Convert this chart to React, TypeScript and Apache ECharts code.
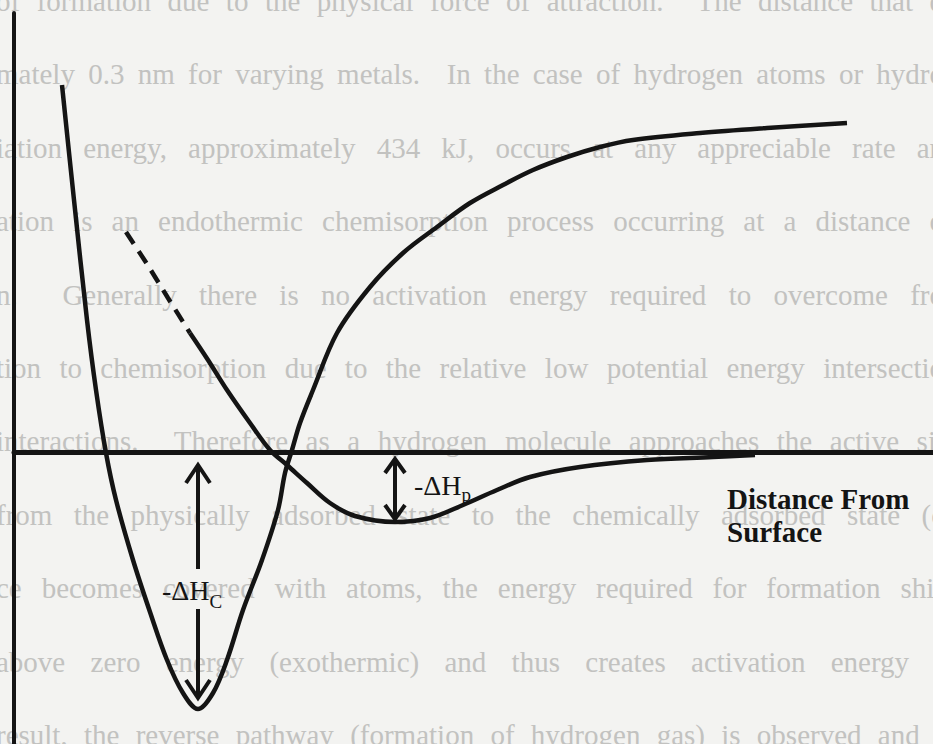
import React, { useEffect, useRef } from "react";
import * as echarts from "echarts";

// ---- Data (distance from surface vs potential energy, arbitrary units; energy 0 = free molecule) ----
const CHEM_DISTANCE = [48, 60, 73, 82, 92, 102, 119, 136, 153, 169, 184, 199, 213, 229, 248, 264, 271, 278, 286, 299, 323, 356, 389, 423, 456, 489, 519, 553, 586, 619, 686, 753, 833];
const CHEM_ENERGY = [367, 252, 132, 62, -1, -48, -108, -160, -208, -241, -257, -241, -208, -158, -108, -58, -21, 2, 29, 62, 119, 165, 199, 225, 249, 267, 282, 295, 305, 312, 319, 324, 329];

const PHYS_DASH_DISTANCE = [112, 133, 154, 176];
const PHYS_DASH_ENERGY = [220, 188, 154, 119];

const PHYS_DISTANCE = [176, 194, 213, 236, 256, 273, 293, 316, 341, 381, 416, 449, 483, 516, 566, 633, 699, 741];
const PHYS_ENERGY = [119, 92, 62, 29, 2, -13, -31, -51, -64, -70, -66, -53, -38, -25, -15, -8, -5, -3];

// [distance, energy start, energy end, head at start, head at end]
const ARROW_HC = [
  [184, -11, -119, 1, 0],
  [184, -155, -248, 0, 1],
];
const ARROW_HP = [[381, -5, -69, 1, 1]];

const LABEL_HC = ["-ΔH", "C"];
const LABEL_HP = ["-ΔH", "p"];
const AXIS_TITLE = ["Distance From", "Surface"];

const BG_LINES = [
  "of formation due to the physical force of attraction.  The distance that d",
  "mately 0.3 nm for varying metals.  In the case of hydrogen atoms or hydro",
  "iation energy, approximately 434 kJ, occurs at any appreciable rate an",
  "ation is an endothermic chemisorption process occurring at a distance o",
  "n.  Generally there is no activation energy required to overcome fro",
  "tion to chemisorption due to the relative low potential energy intersectio",
  "interactions.  Therefore as a hydrogen molecule approaches the active sit",
  "from the physically adsorbed state to the chemically adsorbed state (c",
  "ce becomes covered with atoms, the energy required for formation shif",
  "above zero energy (exothermic) and thus creates activation energy f",
  "result, the reverse pathway (formation of hydrogen gas) is observed and t",
];

const INK = "#141414";
const SERIF = "'Liberation Serif', 'Times New Roman', serif";

function zip(xs: number[], ys: number[]) {
  return xs.map((x, i) => [x, ys[i]]);
}

function makeArrowRenderer(halfW: number, headLen: number) {
  return (params: any, api: any) => {
    const x = api.value(0);
    const p1 = api.coord([x, api.value(1)]);
    const p2 = api.coord([x, api.value(2)]);
    const children: any[] = [
      {
        type: "line",
        shape: { x1: p1[0], y1: p1[1] + 2, x2: p2[0], y2: p2[1] - 2 },
        style: { stroke: INK, lineWidth: 4 },
      },
    ];
    if (api.value(3)) {
      children.push({
        type: "polyline",
        shape: { points: [[p1[0] - halfW, p1[1] + headLen], [p1[0], p1[1] + 2], [p1[0] + halfW, p1[1] + headLen]] },
        style: { stroke: INK, lineWidth: 4, fill: null, lineJoin: "miter" },
      });
    }
    if (api.value(4)) {
      children.push({
        type: "polyline",
        shape: { points: [[p2[0] - halfW, p2[1] - headLen], [p2[0], p2[1] - 2], [p2[0] + halfW, p2[1] - headLen]] },
        style: { stroke: INK, lineWidth: 4, fill: null, lineJoin: "miter" },
      });
    }
    return { type: "group", children };
  };
}

export default function App() {
  const ref = useRef<HTMLDivElement>(null);

  useEffect(() => {
    if (!ref.current) return;
    const chart = echarts.init(ref.current, null, { renderer: "svg" });

    const canvas = document.createElement("canvas");
    const ctx = canvas.getContext("2d") as CanvasRenderingContext2D;
    const measure = (t: string, font: string) => {
      ctx.font = font;
      return ctx.measureText(t).width;
    };

    // Background (scanned page) text, justified
    const bgSize = 29;
    const bgFont = `${bgSize}px ${SERIF}`;
    const startX = -4;
    const endX = 944;
    const pitch = 73.4;
    const bgGraphics: any[] = [];
    BG_LINES.forEach((line, i) => {
      const words = line.split(/\s+/).filter(Boolean);
      const widths = words.map((w) => measure(w, bgFont));
      const weights = words.slice(0, -1).map((w) => (/[.]$/.test(w) ? 2 : 1));
      const totalW = widths.reduce((a, b) => a + b, 0);
      const totalWeight = weights.reduce((a, b) => a + b, 0) || 1;
      const unit = Math.max(4, (endX - startX - totalW) / totalWeight);
      let x = startX;
      const y = 1 + i * pitch;
      words.forEach((w, j) => {
        bgGraphics.push({
          type: "text",
          x,
          y,
          z: -10,
          silent: true,
          style: { text: w, fontSize: bgSize, fontFamily: SERIF, fill: "#c2c2c0", verticalAlign: "middle", align: "left" },
        });
        x += widths[j] + (j < weights.length ? weights[j] * unit : 0);
      });
    });

    // Labels
    const lblSize = 28;
    const subSize = 19;
    const lblFont = `${lblSize}px ${SERIF}`;
    const wHC = measure(LABEL_HC[0], lblFont);
    const wHP = measure(LABEL_HP[0], lblFont);
    const labelGraphics: any[] = [
      { type: "text", x: 162, y: 600 - 0.35 * lblSize, style: { text: LABEL_HC[0], fontSize: lblSize, fontFamily: SERIF, fill: INK, verticalAlign: "middle" } },
      { type: "text", x: 162 + wHC, y: 608 - 0.35 * subSize, style: { text: LABEL_HC[1], fontSize: subSize, fontFamily: SERIF, fill: INK, verticalAlign: "middle" } },
      { type: "text", x: 414, y: 495 - 0.35 * lblSize, style: { text: LABEL_HP[0], fontSize: lblSize, fontFamily: SERIF, fill: INK, verticalAlign: "middle" } },
      { type: "text", x: 414 + wHP, y: 501 - 0.35 * subSize, style: { text: LABEL_HP[1], fontSize: subSize, fontFamily: SERIF, fill: INK, verticalAlign: "middle" } },
      { type: "text", x: 727, y: 509 - 0.35 * 29, style: { text: AXIS_TITLE[0], fontSize: 29, fontWeight: "bold", fontFamily: SERIF, fill: INK, verticalAlign: "middle" } },
      { type: "text", x: 727, y: 542 - 0.35 * 29, style: { text: AXIS_TITLE[1], fontSize: 29, fontWeight: "bold", fontFamily: SERIF, fill: INK, verticalAlign: "middle" } },
    ];

    const hiddenAxisParts = {
      axisTick: { show: false },
      axisLabel: { show: false },
      splitLine: { show: false },
    };

    chart.setOption({
      animation: false,
      backgroundColor: "#f3f3f1",
      grid: { left: 14, right: 0, top: 13, bottom: 0 },
      xAxis: {
        type: "value",
        min: 0,
        max: 919,
        axisLine: { show: true, onZero: true, lineStyle: { color: INK, width: 5 } },
        ...hiddenAxisParts,
      },
      yAxis: {
        type: "value",
        min: -292,
        max: 439,
        axisLine: { show: true, lineStyle: { color: INK, width: 4 } },
        ...hiddenAxisParts,
      },
      series: [
        {
          type: "line",
          data: zip(CHEM_DISTANCE, CHEM_ENERGY),
          smooth: 0.35,
          showSymbol: false,
          symbol: "none",
          lineStyle: { color: INK, width: 4.5 },
          z: 3,
        },
        {
          type: "line",
          data: zip(PHYS_DASH_DISTANCE, PHYS_DASH_ENERGY),
          smooth: 0.3,
          symbol: "none",
          lineStyle: { color: INK, width: 4.5, type: [14, 9], cap: "butt" },
          z: 3,
        },
        {
          type: "line",
          data: zip(PHYS_DISTANCE, PHYS_ENERGY),
          smooth: 0.35,
          symbol: "none",
          lineStyle: { color: INK, width: 4.5 },
          z: 3,
        },
        {
          type: "custom",
          coordinateSystem: "cartesian2d",
          renderItem: makeArrowRenderer(12, 20),
          encode: { x: 0, y: [1, 2] },
          data: ARROW_HC,
          clip: false,
          z: 4,
        },
        {
          type: "custom",
          coordinateSystem: "cartesian2d",
          renderItem: makeArrowRenderer(10, 16),
          encode: { x: 0, y: [1, 2] },
          data: ARROW_HP,
          clip: false,
          z: 4,
        },
      ],
      graphic: [...bgGraphics, ...labelGraphics],
    });

    return () => chart.dispose();
  }, []);

  return (
    <div
      ref={ref}
      style={{ position: "fixed", left: 0, top: 0, width: 933, height: 744, background: "#f3f3f1" }}
    />
  );
}
